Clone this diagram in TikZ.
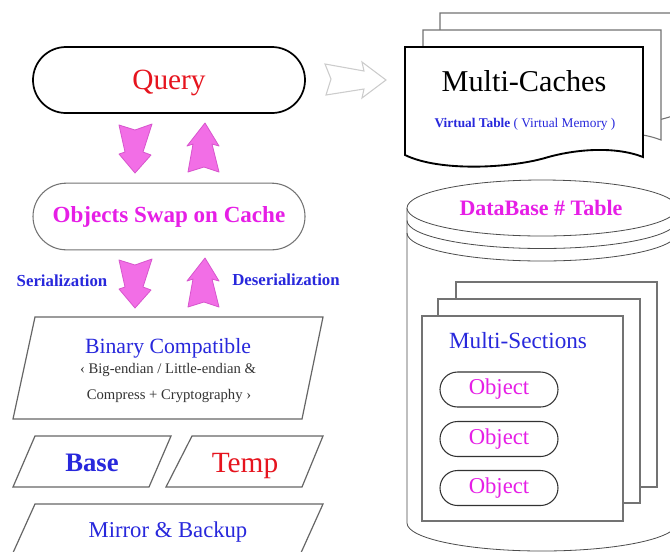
\documentclass[tikz,border=0pt]{standalone}
\usepackage{fontspec}
\setmainfont{Liberation Serif}
\usetikzlibrary{shapes.misc}
\definecolor{qred}{RGB}{230,20,30}
\definecolor{qblue}{RGB}{40,40,220}
\definecolor{qmag}{RGB}{230,30,230}
\definecolor{pinkfill}{RGB}{242,110,230}
\definecolor{pinkline}{RGB}{215,85,205}
\newcommand\fs[1]{\fontsize{#1}{#1}\selectfont}
\begin{document}
\begin{tikzpicture}[x=0.75pt,y=-0.75pt,
  stadium/.style={draw, rounded rectangle, fill=white, inner sep=0pt},
  pinkarrow/.style={fill=pinkfill, draw=pinkline, line width=0.6pt, line join=round},
  para/.style={draw=black!60, line width=0.9pt, line join=miter},
  page/.style={draw=black!55, fill=white, line width=0.8pt},
  cyl/.style={draw=black!70, line width=0.6pt},
  lbl/.style={inner sep=0pt, anchor=base},
  darrow/.pic={\path[pinkarrow] (-16,-48) -- (-10,-21) -- (-16,-19) -- (0,0) -- (16,-18) -- (8,-21) -- (17,-49) -- (0,-43) -- cycle;},
  uarrow/.pic={\path[pinkarrow] (0,0) -- (14,23) -- (7,21) -- (14,49) -- (-1,44) -- (-17,49) -- (-12,21) -- (-18,23) -- cycle;}
]
\useasboundingbox (0,0) rectangle (670,551);
\clip (0,0) rectangle (670,551);
\fill[white] (0,0) rectangle (670,551);

% ---------- left column ----------
\node[stadium, draw=black, line width=1.3pt, minimum width=204pt, minimum height=49.5pt,
      text=qred, text depth=0pt, font=\fs{22}] (query) at (169,80) {Query};
\node[stadium, draw=black!55, line width=0.8pt, minimum width=204pt, minimum height=50pt,
      text=qmag, font=\fs{17.3}\bfseries] (swap) at (169,216.5) {Objects Swap on Cache};

\pic at (135,173) {darrow};
\pic at (205,123) {uarrow};
\pic at (135,308) {darrow};
\pic at (205,258) {uarrow};

\node[lbl, text=qblue, font=\fs{12.6}\bfseries] (ser) at (62,286) {Serialization};
\node[lbl, text=qblue, font=\fs{12.6}\bfseries] (deser) at (286,285) {Deserialization};

% hollow grey arrow
\draw[draw=black!20, line width=0.8pt, line join=miter]
  (325,64) -- (364,71) -- (362,62) -- (386,80) -- (362,98) -- (364,89) -- (326,95) -- (331,79) -- cycle;

% parallelograms
\draw[para] (35,317) -- (323,317) -- (302,419) -- (13,419) -- cycle;
\draw[para] (35,436) -- (171,436) -- (149,487) -- (13,487) -- cycle;
\draw[para] (192,436) -- (323,436) -- (302,487) -- (166,487) -- cycle;
\draw[para] (35,504) -- (323,504) -- (300,555) -- (12,555) -- cycle;

\node[lbl, text=qblue, font=\fs{16.3}] (bin) at (168,353) {Binary Compatible};
\node[lbl, text=black!80, font=\fs{11}] (bin2) at (168,373) {‹ Big-endian / Little-endian \&};
\node[lbl, text=black!80, font=\fs{11}] (bin3) at (169,399) {Compress + Cryptography ›};
\node[lbl, text=qblue, font=\fs{20}\bfseries] (base) at (92,471) {Base};
\node[lbl, text=qred, font=\fs{22}] (temp) at (245,472) {Temp};
\node[lbl, text=qblue, font=\fs{17}] (mirror) at (168,537) {Mirror \& Backup};

% ---------- Multi-Caches document stack ----------
\draw[page] (440,13) -- (700,13) -- (700,104) .. controls (665,124) and (620,128) .. (580,126)
  .. controls (530,124) and (470,126) .. (440,121) -- cycle;
\draw[page] (423,30) -- (661,30) -- (661,140) .. controls (633,129) and (593,132) .. (563,141)
  .. controls (528,151) and (458,155) .. (423,138) -- cycle;
\draw[fill=white, line width=1.4pt, line join=miter] (405,47) -- (643,47) -- (643,157)
  .. controls (615,146) and (575,149) .. (545,158) .. controls (510,168) and (440,172) .. (405,155) -- cycle;
\node[lbl, font=\fs{22.7}] (mc) at (524,91) {Multi-Caches};
\node[lbl, text=qblue, font=\fs{10}] (vt) at (525,127) {\textbf{Virtual Table} ( Virtual Memory )};

% ---------- DataBase cylinder ----------
\draw[cyl, fill=white] (407,208) -- (407,523) arc[start angle=180, end angle=360, x radius=101.25pt, y radius=21pt] -- (677,208);
\draw[cyl, fill=white] (542,208) ellipse [x radius=101.25pt, y radius=21pt];
\draw[cyl] (407,220.5) arc[start angle=180, end angle=360, x radius=101.25pt, y radius=21pt];
\draw[cyl] (407,233) arc[start angle=180, end angle=360, x radius=101.25pt, y radius=21pt];
\node[lbl, text=qmag, font=\fs{16.5}\bfseries] (db) at (541,215) {DataBase \# Table};

% ---------- Multi-Sections stack ----------
\draw[page] (456,282) rectangle (657,487);
\draw[page] (438,299) rectangle (640,503);
\draw[page] (422,316) rectangle (623,521);
\node[lbl, text=qblue, font=\fs{17.4}] (ms) at (518,348) {Multi-Sections};
\node[stadium, draw=black!80, line width=0.8pt, minimum width=88.5pt, minimum height=26.25pt,
      text=qmag, font=\fs{17}] (o1) at (499,389.5) {Object};
\node[stadium, draw=black!80, line width=0.8pt, minimum width=88.5pt, minimum height=26.25pt,
      text=qmag, font=\fs{17}] (o2) at (499,439) {Object};
\node[stadium, draw=black!80, line width=0.8pt, minimum width=88.5pt, minimum height=26.25pt,
      text=qmag, font=\fs{17}] (o3) at (499,488) {Object};
\end{tikzpicture}
\end{document}
